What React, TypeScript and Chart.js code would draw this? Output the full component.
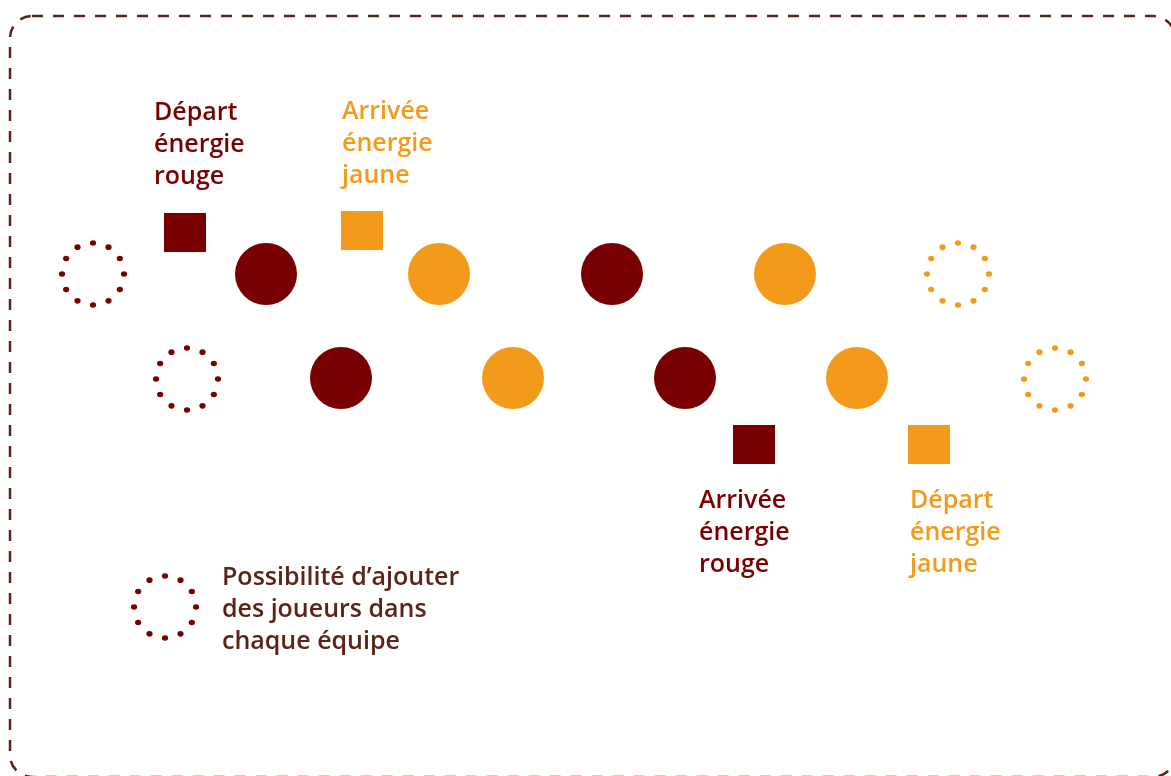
import React, { useEffect, useRef } from "react";
import { Chart, registerables } from "chart.js";

Chart.register(...registerables);

const RED = "#780000";
const ORANGE = "#f39a1b";
const BROWN = "#5a2418";
const FONT = "600 25px 'Open Sans', sans-serif";
const LINE_HEIGHT = 32;

// Players (filled circles)
const redPlayersX = [266, 612, 341, 685];
const redPlayersY = [274, 274, 378, 378];
const yellowPlayersX = [439, 785, 513, 857];
const yellowPlayersY = [274, 274, 378, 378];

// Optional players (dotted circles)
const redOptionalX = [93, 187];
const redOptionalY = [274, 379];
const yellowOptionalX = [958, 1055];
const yellowOptionalY = [274, 379];
const legendMarkerX = [165];
const legendMarkerY = [607];

// Energy start / arrival squares
const redSquareX = [185, 754];
const redSquareY = [232, 444];
const yellowSquareX = [362, 929];
const yellowSquareY = [230, 444];

// Text labels
const labelTexts = [
  ["Départ", "énergie", "rouge"],
  ["Arrivée", "énergie", "jaune"],
  ["Arrivée", "énergie", "rouge"],
  ["Départ", "énergie", "jaune"],
  ["Possibilité d’ajouter", "des joueurs dans", "chaque équipe"],
];
const labelX = [154, 342, 699, 910, 222];
const labelY = [120, 119, 508, 508, 585];
const labelColors = [RED, ORANGE, RED, ORANGE, BROWN];

const toPoints = (xs: number[], ys: number[]) => xs.map((x, i) => ({ x, y: ys[i] }));

function dottedCircle(color: string): HTMLCanvasElement {
  const c = document.createElement("canvas");
  c.width = 72;
  c.height = 72;
  const ctx = c.getContext("2d")!;
  ctx.fillStyle = color;
  for (let k = 0; k < 12; k++) {
    const a = -Math.PI / 2 + (k * Math.PI) / 6;
    ctx.beginPath();
    ctx.ellipse(36 + 31 * Math.cos(a), 36 + 31 * Math.sin(a), 3.1, 2.8, 0, 0, Math.PI * 2);
    ctx.fill();
  }
  return c;
}

function block(color: string): HTMLCanvasElement {
  const c = document.createElement("canvas");
  c.width = 42;
  c.height = 39;
  const ctx = c.getContext("2d")!;
  ctx.fillStyle = color;
  ctx.fillRect(0, 0, 42, 39);
  return c;
}

const decorPlugin = {
  id: "decor",
  beforeDraw(chart: any) {
    const ctx = chart.ctx;
    const xs = chart.scales.x;
    const ys = chart.scales.y;
    ctx.save();
    ctx.fillStyle = "#ffffff";
    ctx.fillRect(0, 0, chart.width, chart.height);
    const x0 = xs.getPixelForValue(10);
    const y0 = ys.getPixelForValue(16);
    const x1 = xs.getPixelForValue(1175);
    const y1 = ys.getPixelForValue(777);
    ctx.strokeStyle = BROWN;
    ctx.lineWidth = 2.5;
    ctx.setLineDash([11, 10]);
    ctx.beginPath();
    ctx.roundRect(x0, y0, x1 - x0, y1 - y0, 22);
    ctx.stroke();
    ctx.restore();
  },
  afterDatasetsDraw(chart: any) {
    const ctx = chart.ctx;
    const xs = chart.scales.x;
    const ys = chart.scales.y;
    ctx.save();
    ctx.font = FONT;
    ctx.textAlign = "left";
    ctx.textBaseline = "alphabetic";
    labelTexts.forEach((lines, i) => {
      ctx.fillStyle = labelColors[i];
      lines.forEach((line, j) => {
        ctx.fillText(line, xs.getPixelForValue(labelX[i]), ys.getPixelForValue(labelY[i] + j * LINE_HEIGHT));
      });
    });
    ctx.restore();
  },
};

export default function App() {
  const ref = useRef<HTMLCanvasElement>(null);

  useEffect(() => {
    if (!ref.current) return;
    const redDots = dottedCircle(RED);
    const yellowDots = dottedCircle(ORANGE);
    const common = { showLine: false, clip: false as any, pointHoverRadius: 31 };
    const chart = new Chart(ref.current, {
      type: "scatter",
      data: {
        datasets: [
          { ...common, label: "Joueurs rouges", data: toPoints(redPlayersX, redPlayersY), pointStyle: "circle", pointRadius: 31, backgroundColor: RED, borderColor: RED, borderWidth: 0 },
          { ...common, label: "Joueurs jaunes", data: toPoints(yellowPlayersX, yellowPlayersY), pointStyle: "circle", pointRadius: 31, backgroundColor: ORANGE, borderColor: ORANGE, borderWidth: 0 },
          { ...common, label: "Optionnels rouges", data: toPoints(redOptionalX, redOptionalY), pointStyle: redDots as any },
          { ...common, label: "Optionnels jaunes", data: toPoints(yellowOptionalX, yellowOptionalY), pointStyle: yellowDots as any },
          { ...common, label: "Légende", data: toPoints(legendMarkerX, legendMarkerY), pointStyle: redDots as any },
          { ...common, label: "Énergie rouge", data: toPoints(redSquareX, redSquareY), pointStyle: block(RED) as any },
          { ...common, label: "Énergie jaune", data: toPoints(yellowSquareX, yellowSquareY), pointStyle: block(ORANGE) as any },
        ],
      },
      options: {
        animation: false,
        responsive: true,
        maintainAspectRatio: false,
        layout: { padding: 0, autoPadding: false },
        events: [],
        plugins: { legend: { display: false }, tooltip: { enabled: false } },
        scales: {
          x: { type: "linear", min: 0, max: 1171, display: false },
          y: { type: "linear", min: 0, max: 776, reverse: true, display: false },
        },
      },
      plugins: [decorPlugin],
    });
    return () => chart.destroy();
  }, []);

  return (
    <div style={{ position: "absolute", left: 0, top: 0, width: 1171, height: 776, background: "#fff" }}>
      <canvas ref={ref} />
    </div>
  );
}
